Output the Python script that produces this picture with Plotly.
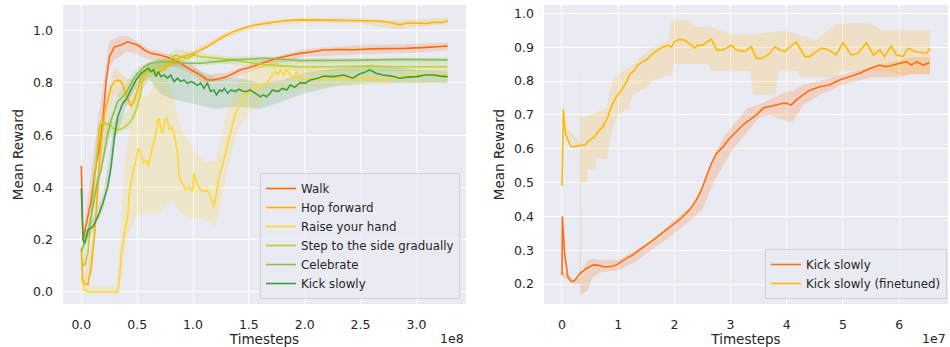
import plotly.graph_objects as go

# ---------------- Left panel data (x in units of 1e8 timesteps) ----------------
walk_x = [0, 0.015, 0.05, 0.089, 0.12, 0.163, 0.193, 0.223, 0.252, 0.297,
          0.356, 0.415, 0.46, 0.504, 0.564, 0.623, 0.712, 0.801, 0.89, 0.98,
          1.068, 1.128, 1.187, 1.246, 1.305, 1.365, 1.424, 1.484, 1.573, 1.662,
          1.751, 1.84, 1.929, 2.05, 2.17, 2.3, 2.45, 2.6, 2.75, 2.9,
          3.05, 3.18, 3.28]
walk_y = [0.483, 0.199, 0.27, 0.352, 0.454, 0.556, 0.658, 0.811, 0.9, 0.938,
          0.945, 0.957, 0.951, 0.945, 0.926, 0.913, 0.906, 0.893, 0.875, 0.85,
          0.83, 0.811, 0.811, 0.817, 0.824, 0.837, 0.85, 0.856, 0.869, 0.881,
          0.894, 0.903, 0.911, 0.918, 0.926, 0.928, 0.927, 0.93, 0.93, 0.932,
          0.935, 0.939, 0.941]
walk_bx = [0, 0.02, 0.1, 0.2, 0.25, 0.3, 0.35, 0.4, 0.5, 0.6, 0.8, 1.0, 1.1, 1.3, 1.6, 2.0, 2.5, 3.0, 3.28]
walk_lo = [0.46, 0.18, 0.42, 0.68, 0.86, 0.89, 0.9, 0.92, 0.91, 0.89, 0.87, 0.83, 0.8, 0.81, 0.855, 0.9, 0.91, 0.915, 0.925]
walk_hi = [0.49, 0.22, 0.5, 0.8, 0.96, 0.97, 0.98, 0.98, 0.96, 0.93, 0.91, 0.87, 0.83, 0.84, 0.885, 0.93, 0.945, 0.95, 0.955]

hop_x = [0, 0.01, 0.03, 0.059, 0.089, 0.119, 0.148, 0.178, 0.208, 0.237,
         0.267, 0.297, 0.326, 0.356, 0.386, 0.415, 0.445, 0.475, 0.504, 0.534,
         0.564, 0.62, 0.68, 0.74, 0.8, 0.89, 1.01, 1.13, 1.25, 1.36,
         1.51, 1.66, 1.81, 1.96, 2.1, 2.26, 2.4, 2.55, 2.7, 2.78,
         2.85, 2.91, 3.0, 3.08, 3.15, 3.22, 3.28]
hop_y = [0.17, 0.05, 0.033, 0.027, 0.097, 0.224, 0.403, 0.58, 0.684, 0.735,
         0.786, 0.805, 0.811, 0.805, 0.773, 0.747, 0.709, 0.735, 0.773, 0.824,
         0.843, 0.845, 0.84, 0.85, 0.875, 0.898, 0.913, 0.939, 0.971, 0.996,
         1.018, 1.028, 1.038, 1.041, 1.04, 1.041, 1.04, 1.038, 1.035, 1.03,
         1.022, 1.028, 1.03, 1.027, 1.032, 1.03, 1.038]
hop_bx = [0, 0.03, 0.1, 0.2, 0.3, 0.4, 0.5, 0.6, 0.8, 1.0, 1.3, 1.6, 2.0, 2.5, 2.8, 3.0, 3.28]
hop_lo = [0.15, 0.01, 0.08, 0.6, 0.76, 0.71, 0.72, 0.82, 0.855, 0.9, 0.975, 1.015, 1.03, 1.028, 1.005, 1.012, 1.025]
hop_hi = [0.2, 0.06, 0.2, 0.72, 0.86, 0.82, 0.8, 0.87, 0.895, 0.925, 0.995, 1.035, 1.05, 1.048, 1.04, 1.045, 1.05]

raise_x = [0, 0.03, 0.06, 0.326, 0.341, 0.356, 0.386, 0.415, 0.43, 0.46,
           0.49, 0.51, 0.534, 0.558, 0.579, 0.599, 0.623, 0.647, 0.668, 0.682,
           0.697, 0.712, 0.727, 0.748, 0.766, 0.786, 0.807, 0.831, 0.861, 0.875,
           0.905, 0.935, 0.964, 0.994, 1.009, 1.04, 1.068, 1.098, 1.128, 1.157,
           1.187, 1.2, 1.232, 1.261, 1.291, 1.32, 1.35, 1.38, 1.41, 1.44,
           1.47, 1.5, 1.53, 1.56, 1.59, 1.62, 1.65, 1.68, 1.71, 1.74,
           1.76, 1.78, 1.81, 1.84, 1.87, 1.9, 1.93, 1.96, 1.99, 2.05,
           2.11, 2.17, 2.3, 2.4, 2.55, 2.7, 2.85, 3.0, 3.15, 3.28]
raise_y = [0.05, 0.008, 0.0, 0.0, 0.046, 0.135, 0.224, 0.288, 0.378, 0.454,
           0.505, 0.55, 0.531, 0.492, 0.505, 0.48, 0.531, 0.569, 0.607, 0.658,
           0.664, 0.62, 0.607, 0.658, 0.664, 0.62, 0.633, 0.607, 0.531, 0.441,
           0.416, 0.39, 0.403, 0.384, 0.454, 0.41, 0.39, 0.384, 0.39, 0.365,
           0.327, 0.35, 0.441, 0.48, 0.531, 0.582, 0.633, 0.684, 0.709, 0.735,
           0.76, 0.76, 0.78, 0.78, 0.786, 0.792, 0.792, 0.811, 0.83, 0.843,
           0.83, 0.85, 0.83, 0.85, 0.83, 0.818, 0.843, 0.818, 0.811, 0.818,
           0.811, 0.818, 0.82, 0.815, 0.82, 0.81, 0.822, 0.83, 0.828, 0.834]
raise_bx = [0, 0.03, 0.32, 0.36, 0.4, 0.5, 0.6, 0.7, 0.8, 0.9, 1.0, 1.1, 1.2, 1.3, 1.4, 1.5, 1.7, 2.0, 2.5, 3.0, 3.28]
raise_lo = [0.0, 0.0, 0.0, 0.05, 0.2, 0.3, 0.3, 0.3, 0.35, 0.3, 0.28, 0.28, 0.25, 0.45, 0.62, 0.68, 0.76, 0.78, 0.79, 0.8, 0.8]
raise_hi = [0.1, 0.02, 0.02, 0.3, 0.55, 0.75, 0.75, 0.85, 0.78, 0.62, 0.55, 0.5, 0.5, 0.68, 0.8, 0.85, 0.88, 0.86, 0.85, 0.85, 0.85]

step_x = [0, 0.03, 0.059, 0.104, 0.134, 0.163, 0.193, 0.223, 0.252, 0.282,
          0.326, 0.371, 0.415, 0.46, 0.49, 0.519, 0.549, 0.579, 0.623, 0.682,
          0.742, 0.801, 0.846, 0.89, 0.95, 1.009, 1.068, 1.2, 1.36, 1.5,
          1.66, 1.8, 1.96, 2.26, 2.55, 2.85, 3.28]
step_y = [0.11, 0.103, 0.148, 0.352, 0.518, 0.633, 0.652, 0.64, 0.645, 0.626,
          0.62, 0.626, 0.64, 0.665, 0.696, 0.735, 0.811, 0.837, 0.85, 0.856,
          0.862, 0.894, 0.907, 0.9, 0.894, 0.907, 0.9, 0.895, 0.888, 0.878,
          0.869, 0.865, 0.862, 0.862, 0.864, 0.862, 0.862]
step_bx = [0, 0.05, 0.1, 0.15, 0.3, 0.45, 0.55, 0.7, 0.85, 1.0, 1.5, 2.0, 2.5, 3.28]
step_lo = [0.09, 0.1, 0.3, 0.57, 0.6, 0.63, 0.78, 0.84, 0.88, 0.89, 0.86, 0.845, 0.845, 0.845]
step_hi = [0.13, 0.17, 0.4, 0.66, 0.65, 0.71, 0.84, 0.88, 0.93, 0.92, 0.89, 0.88, 0.88, 0.88]

celeb_x = [0, 0.015, 0.059, 0.104, 0.148, 0.178, 0.208, 0.237, 0.267, 0.297,
           0.326, 0.371, 0.415, 0.46, 0.504, 0.564, 0.623, 0.712, 0.801, 0.89,
           1.07, 1.36, 1.66, 1.96, 2.26, 2.55, 2.85, 3.28]
celeb_y = [0.155, 0.173, 0.224, 0.327, 0.43, 0.467, 0.543, 0.607, 0.658, 0.696,
           0.728, 0.747, 0.773, 0.811, 0.837, 0.862, 0.875, 0.881, 0.881, 0.875,
           0.875, 0.888, 0.894, 0.885, 0.885, 0.887, 0.89, 0.888]
celeb_bx = [0, 0.05, 0.1, 0.2, 0.3, 0.4, 0.5, 0.7, 1.0, 1.5, 2.0, 2.5, 3.28]
celeb_lo = [0.13, 0.19, 0.29, 0.5, 0.67, 0.74, 0.81, 0.86, 0.865, 0.88, 0.875, 0.875, 0.878]
celeb_hi = [0.17, 0.25, 0.36, 0.6, 0.74, 0.8, 0.86, 0.895, 0.885, 0.905, 0.895, 0.895, 0.898]

kick_x = [0, 0.015, 0.03, 0.059, 0.104, 0.148, 0.193, 0.237, 0.267, 0.297,
          0.326, 0.371, 0.4, 0.445, 0.49, 0.534, 0.579, 0.6, 0.623, 0.647,
          0.668, 0.69, 0.712, 0.742, 0.772, 0.801, 0.831, 0.861, 0.89, 0.92,
          0.95, 0.98, 1.009, 1.039, 1.068, 1.098, 1.128, 1.157, 1.187, 1.21,
          1.24, 1.26, 1.28, 1.31, 1.34, 1.38, 1.41, 1.45, 1.48, 1.51,
          1.58, 1.6, 1.63, 1.66, 1.69, 1.71, 1.76, 1.8, 1.84, 1.87,
          1.91, 1.96, 2.0, 2.05, 2.11, 2.17, 2.26, 2.35, 2.43, 2.49,
          2.55, 2.58, 2.64, 2.7, 2.78, 2.85, 2.92, 3.0, 3.08, 3.15,
          3.22, 3.28]
kick_y = [0.397, 0.2, 0.186, 0.237, 0.25, 0.288, 0.339, 0.403, 0.48, 0.594,
          0.671, 0.722, 0.735, 0.773, 0.811, 0.837, 0.85, 0.856, 0.843, 0.85,
          0.824, 0.843, 0.824, 0.83, 0.818, 0.83, 0.805, 0.818, 0.805, 0.811,
          0.798, 0.805, 0.8, 0.79, 0.8, 0.779, 0.8, 0.767, 0.773, 0.754,
          0.773, 0.767, 0.779, 0.76, 0.773, 0.767, 0.776, 0.767, 0.767, 0.773,
          0.754, 0.747, 0.754, 0.747, 0.76, 0.773, 0.767, 0.779, 0.773, 0.792,
          0.783, 0.801, 0.798, 0.811, 0.817, 0.826, 0.824, 0.83, 0.818, 0.834,
          0.843, 0.85, 0.837, 0.83, 0.826, 0.818, 0.822, 0.824, 0.83, 0.83,
          0.826, 0.824]
kick_bx = [0, 0.02, 0.1, 0.2, 0.3, 0.4, 0.5, 0.6, 0.7, 0.8, 1.0, 1.2, 1.4, 1.6, 1.8, 2.0, 2.3, 2.6, 3.0, 3.28]
kick_lo = [0.38, 0.17, 0.23, 0.32, 0.58, 0.71, 0.79, 0.82, 0.76, 0.74, 0.72, 0.7, 0.71, 0.7, 0.73, 0.76, 0.79, 0.8, 0.8, 0.8]
kick_hi = [0.42, 0.21, 0.28, 0.38, 0.66, 0.76, 0.84, 0.88, 0.89, 0.88, 0.86, 0.82, 0.82, 0.8, 0.81, 0.84, 0.855, 0.87, 0.85, 0.845]

# ---------------- Right panel data (x in units of 1e7 timesteps) ----------------
rk_x = [0, 0.006, 0.047, 0.107, 0.166, 0.225, 0.314, 0.433, 0.55, 0.64,
        0.73, 0.85, 0.967, 1.056, 1.145, 1.26, 1.38, 1.5, 1.62, 1.74,
        1.86, 1.975, 2.09, 2.27, 2.39, 2.48, 2.57, 2.66, 2.75, 2.87,
        2.98, 3.1, 3.22, 3.34, 3.46, 3.58, 3.7, 3.81, 3.93, 4.0,
        4.08, 4.17, 4.29, 4.41, 4.59, 4.76, 4.94, 5.12, 5.3, 5.48,
        5.65, 5.77, 5.89, 6.01, 6.13, 6.22, 6.31, 6.43, 6.54]
rk_y = [0.227, 0.4, 0.29, 0.22, 0.207, 0.21, 0.23, 0.246, 0.256, 0.256,
        0.251, 0.251, 0.256, 0.266, 0.276, 0.286, 0.3, 0.315, 0.33, 0.345,
        0.36, 0.374, 0.39, 0.419, 0.448, 0.478, 0.517, 0.557, 0.586, 0.606,
        0.63, 0.65, 0.67, 0.685, 0.7, 0.72, 0.724, 0.729, 0.734, 0.734,
        0.729, 0.744, 0.759, 0.773, 0.783, 0.788, 0.803, 0.813, 0.823, 0.837,
        0.847, 0.842, 0.847, 0.852, 0.857, 0.847, 0.857, 0.847, 0.854]
rk_bx = [0, 0.1, 0.2, 0.32, 0.33, 0.34, 0.45, 0.55, 0.7, 1.0,
         1.3, 1.6, 2.0, 2.3, 2.5, 2.7, 2.9, 3.1, 3.3, 3.5,
         3.7, 4.0, 4.1, 4.3, 4.6, 5.0, 5.5, 6.0, 6.2, 6.55]
rk_lo = [0.22, 0.215, 0.2, 0.2, 0.17, 0.17, 0.18, 0.22, 0.235, 0.24,
         0.265, 0.3, 0.35, 0.39, 0.42, 0.5, 0.56, 0.61, 0.65, 0.69,
         0.7, 0.68, 0.68, 0.73, 0.76, 0.79, 0.81, 0.81, 0.82, 0.82]
rk_hi = [0.24, 0.23, 0.215, 0.22, 0.9, 0.23, 0.27, 0.275, 0.27, 0.27,
         0.3, 0.33, 0.39, 0.43, 0.48, 0.58, 0.64, 0.68, 0.72, 0.73,
         0.745, 0.77, 0.77, 0.79, 0.8, 0.82, 0.84, 0.86, 0.87, 0.87]

ft_x = [0, 0.012, 0.024, 0.06, 0.107, 0.166, 0.226, 0.33, 0.404, 0.49,
        0.58, 0.64, 0.73, 0.82, 0.88, 0.97, 1.06, 1.15, 1.2, 1.29,
        1.35, 1.44, 1.5, 1.59, 1.71, 1.8, 1.89, 1.95, 2.0, 2.09,
        2.18, 2.3, 2.36, 2.42, 2.51, 2.63, 2.66, 2.75, 2.87, 2.93,
        3.01, 3.1, 3.25, 3.37, 3.46, 3.55, 3.67, 3.79, 3.88, 3.96,
        4.17, 4.32, 4.41, 4.62, 4.74, 4.88, 5.0, 5.15, 5.27, 5.42,
        5.54, 5.66, 5.74, 5.86, 5.95, 6.07, 6.16, 6.28, 6.49, 6.55]
ft_y = [0.49, 0.6, 0.716, 0.645, 0.625, 0.606, 0.606, 0.61, 0.61, 0.625,
        0.635, 0.65, 0.665, 0.695, 0.725, 0.754, 0.773, 0.798, 0.818, 0.832,
        0.847, 0.857, 0.862, 0.877, 0.892, 0.90, 0.906, 0.90, 0.916, 0.923,
        0.921, 0.906, 0.897, 0.906, 0.906, 0.921, 0.923, 0.892, 0.892, 0.897,
        0.906, 0.892, 0.887, 0.901, 0.867, 0.867, 0.877, 0.901, 0.892, 0.887,
        0.916, 0.872, 0.872, 0.897, 0.892, 0.877, 0.913, 0.877, 0.882, 0.913,
        0.877, 0.892, 0.872, 0.903, 0.877, 0.872, 0.897, 0.887, 0.882, 0.897]
ft_lox = [0, 0.024, 0.1, 0.32, 0.33, 0.45, 0.46, 0.6, 0.61, 0.8,
          0.85, 0.9, 1.0, 1.2, 1.25, 1.5, 1.6, 1.95, 2.0, 2.6,
          2.65, 3.0, 3.35, 3.4, 3.8, 3.85, 4.2, 4.25, 4.9, 4.95,
          5.5, 6.0, 6.55]
ft_lo = [0.49, 0.71, 0.63, 0.6, 0.5, 0.5, 0.54, 0.54, 0.57, 0.57,
         0.62, 0.66, 0.7, 0.72, 0.76, 0.78, 0.8, 0.82, 0.85, 0.85,
         0.83, 0.83, 0.83, 0.76, 0.76, 0.83, 0.83, 0.81, 0.81, 0.83,
         0.83, 0.82, 0.82]
ft_hix = [0, 0.024, 0.1, 0.32, 0.33, 0.5, 0.8, 0.85, 0.9, 1.0,
          1.2, 1.4, 1.6, 1.9, 1.95, 2.2, 2.4, 2.6, 3.0, 3.5,
          4.0, 4.5, 4.9, 5.5, 5.7, 6.55]
ft_hi = [0.49, 0.72, 0.66, 0.62, 0.69, 0.7, 0.72, 0.77, 0.8, 0.82,
         0.84, 0.87, 0.9, 0.92, 0.98, 0.98, 0.96, 0.96, 0.94, 0.94,
         0.95, 0.92, 0.97, 0.97, 0.95, 0.95]

left_series = [
    ("Walk", walk_x, walk_y, walk_bx, walk_lo, walk_bx, walk_hi, "#ff6a10", "rgba(255,106,16,0.18)"),
    ("Hop forward", hop_x, hop_y, hop_bx, hop_lo, hop_bx, hop_hi, "#ffb300", "rgba(255,179,0,0.18)"),
    ("Raise your hand", raise_x, raise_y, raise_bx, raise_lo, raise_bx, raise_hi, "#ffd633", "rgba(255,214,51,0.2)"),
    ("Step to the side gradually", step_x, step_y, step_bx, step_lo, step_bx, step_hi, "#bfd12a", "rgba(191,209,42,0.18)"),
    ("Celebrate", celeb_x, celeb_y, celeb_bx, celeb_lo, celeb_bx, celeb_hi, "#8cc04e", "rgba(140,192,78,0.18)"),
    ("Kick slowly", kick_x, kick_y, kick_bx, kick_lo, kick_bx, kick_hi, "#3e9f3e", "rgba(62,159,62,0.18)"),
]
right_series = [
    ("Kick slowly", rk_x, rk_y, rk_bx, rk_lo, rk_bx, rk_hi, "#ff6e0e", "rgba(255,110,14,0.2)"),
    ("Kick slowly (finetuned)", ft_x, ft_y, ft_lox, ft_lo, ft_hix, ft_hi, "#ffb800", "rgba(255,184,0,0.18)"),
]

fig = go.Figure()

def add_panel(series, xa, ya, legend):
    for name, x, y, lox, lo, hix, hi, col, fcol in series:
        fig.add_trace(go.Scatter(
            x=list(hix) + list(lox)[::-1], y=list(hi) + list(lo)[::-1],
            fill="toself", fillcolor=fcol, line=dict(width=0), mode="lines",
            hoverinfo="skip", showlegend=False, xaxis=xa, yaxis=ya))
    for name, x, y, lox, lo, hix, hi, col, fcol in series:
        fig.add_trace(go.Scatter(
            x=x, y=y, name=name, mode="lines", line=dict(color=col, width=1.6),
            xaxis=xa, yaxis=ya, legend=legend))

add_panel(left_series, "x", "y", "legend")
add_panel(right_series, "x2", "y2", "legend2")

txt = "#262626"
font = "DejaVu Sans"
W, H = 950, 347
ax_common = dict(showgrid=True, gridcolor="white", gridwidth=1.2, zeroline=False,
                 showline=False, ticks="", automargin=False,
                 tickfont=dict(family=font, size=12.5, color=txt))
title_font = dict(size=13.5, family=font, color=txt)

fig.update_layout(
    width=W, height=H, margin=dict(l=0, r=0, t=0, b=0, autoexpand=False),
    paper_bgcolor="white", plot_bgcolor="#eaeaf2",
    font=dict(family=font, color=txt),
    xaxis=dict(domain=[63 / W, 466 / W], range=[-0.164, 3.444],
               tickvals=[0, 0.5, 1, 1.5, 2, 2.5, 3],
               ticktext=["0.0", "0.5", "1.0", "1.5", "2.0", "2.5", "3.0"],
               ticklabelstandoff=11,
               title=dict(text="Timesteps", font=title_font, standoff=3),
               anchor="y", **ax_common),
    yaxis=dict(domain=[(H - 304) / H, (H - 5) / H], range=[-0.046, 1.098],
               tickvals=[0, 0.2, 0.4, 0.6, 0.8, 1.0],
               ticktext=["0.0", "0.2", "0.4", "0.6", "0.8", "1.0"],
               ticklabelstandoff=9,
               title=dict(text="Mean Reward", font=title_font, standoff=6),
               anchor="x", **ax_common),
    xaxis2=dict(domain=[544 / W, 948 / W], range=[-0.32, 6.87],
                tickvals=[0, 1, 2, 3, 4, 5, 6],
                ticktext=["0", "1", "2", "3", "4", "5", "6"],
                ticklabelstandoff=11,
                title=dict(text="Timesteps", font=title_font, standoff=3),
                anchor="y2", **ax_common),
    yaxis2=dict(domain=[(H - 304) / H, (H - 5) / H], range=[0.141, 1.0246],
                tickvals=[0.2, 0.3, 0.4, 0.5, 0.6, 0.7, 0.8, 0.9, 1.0],
                ticktext=["0.2", "0.3", "0.4", "0.5", "0.6", "0.7", "0.8", "0.9", "1.0"],
                ticklabelstandoff=9,
                title=dict(text="Mean Reward", font=title_font, standoff=6),
                anchor="x2", **ax_common),
    legend=dict(x=460 / W, y=(H - 299) / H, xanchor="right", yanchor="bottom",
                bgcolor="rgba(234,234,242,0.85)", bordercolor="#cfcfd6", borderwidth=1,
                font=dict(family=font, size=11.8, color=txt), tracegroupgap=0),
    legend2=dict(x=947 / W, y=(H - 299) / H, xanchor="right", yanchor="bottom",
                 bgcolor="rgba(234,234,242,0.85)", bordercolor="#cfcfd6", borderwidth=1,
                 font=dict(family=font, size=11.8, color=txt), tracegroupgap=0),
    showlegend=True,
)

fig.add_annotation(text="1e8", x=466 / W, y=(H - 338) / H, xref="paper", yref="paper",
                   xanchor="right", yanchor="middle", showarrow=False,
                   font=dict(family=font, size=12.5, color=txt))
fig.add_annotation(text="1e7", x=948 / W, y=(H - 338) / H, xref="paper", yref="paper",
                   xanchor="right", yanchor="middle", showarrow=False,
                   font=dict(family=font, size=12.5, color=txt))

fig.write_html("out.html", config={"displayModeBar": False},
               post_script="document.body.style.margin='0';document.body.style.overflow='hidden';")
